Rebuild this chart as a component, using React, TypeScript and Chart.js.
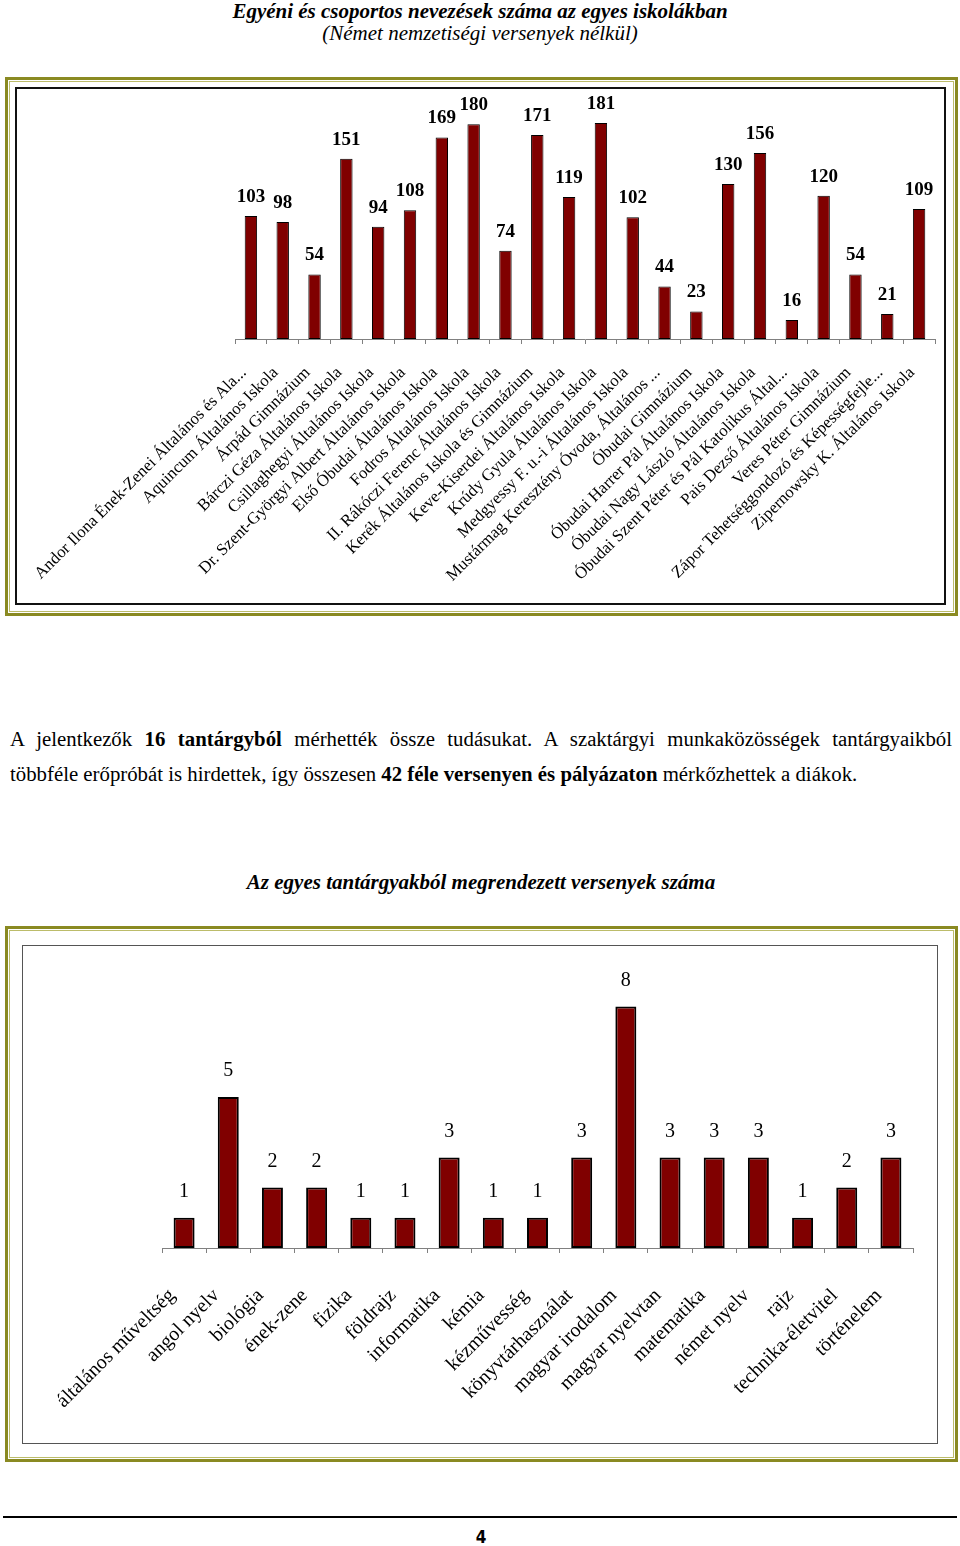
import React, { useEffect, useRef } from "react";
import { Chart, registerables } from "chart.js";

Chart.register(...registerables);

const SERIF = "'Liberation Serif', 'Times New Roman', serif";

const schoolNames: string[] = [
  "Andor Ilona Ének-Zenei Általános és Ala...",
  "Aquincum Általános Iskola",
  "Árpád Gimnázium",
  "Bárczi Géza Általános Iskola",
  "Csillaghegyi Általános Iskola",
  "Dr. Szent-Györgyi Albert Általános Iskola",
  "Első Óbudai Általános Iskola",
  "Fodros Általános Iskola",
  "II. Rákóczi Ferenc Általános Iskola",
  "Kerék Általános Iskola és Gimnázium",
  "Keve-Kiserdei Általános Iskola",
  "Krúdy Gyula Általános Iskola",
  "Medgyessy F. u.-i Általános Iskola",
  "Mustármag Keresztény Óvoda, Általános ...",
  "Óbudai Gimnázium",
  "Óbudai Harrer Pál Általános Iskola",
  "Óbudai Nagy László Általános Iskola",
  "Óbudai Szent Péter és Pál Katolikus Által...",
  "Pais Dezső Általános Iskola",
  "Veres Péter Gimnázium",
  "Zápor Tehetséggondozó és Képességfejle...",
  "Zipernowsky K. Általános Iskola",
];

const schoolEntries: number[] = [
  103, 98, 54, 151, 94, 108, 169, 180, 74, 171, 119, 181, 102, 44, 23, 130, 156, 16, 120, 54, 21, 109,
];

const subjectNames: string[] = [
  "általános műveltség",
  "angol nyelv",
  "biológia",
  "ének-zene",
  "fizika",
  "földrajz",
  "informatika",
  "kémia",
  "kézművesség",
  "könyvtárhasználat",
  "magyar irodalom",
  "magyar nyelvtan",
  "matematika",
  "német nyelv",
  "rajz",
  "technika-életvitel",
  "történelem",
];

const subjectCompetitions: number[] = [1, 5, 2, 2, 1, 1, 3, 1, 1, 3, 8, 3, 3, 3, 1, 2, 3];

type BarProps = {
  labels: string[];
  values: number[];
  width: number;
  height: number;
  yMax: number;
  padLeft: number;
  padRight: number;
  padTop: number;
  xHeight: number;
  tickFont: number;
  tickPadding: number;
  labelOffset: number;
  valueFont: string;
  valueGap: number;
  barPct: number;
  borderWidth: number;
};

function BarChart(p: BarProps) {
  const ref = useRef<HTMLCanvasElement>(null);
  useEffect(() => {
    const valuePlugin = {
      id: "valueLabels",
      afterDatasetsDraw(chart: any) {
        const ctx = chart.ctx;
        const meta = chart.getDatasetMeta(0);
        const data = chart.data.datasets[0].data;
        ctx.save();
        ctx.font = p.valueFont;
        ctx.fillStyle = "#000";
        ctx.textAlign = "center";
        ctx.textBaseline = "middle";
        meta.data.forEach((el: any, i: number) => {
          ctx.fillText(String(data[i]), el.x, el.y - p.valueGap);
        });
        ctx.restore();
      },
    };
    const chart = new Chart(ref.current as HTMLCanvasElement, {
      type: "bar",
      data: {
        labels: p.labels,
        datasets: [
          {
            data: p.values,
            backgroundColor: "#800000",
            borderColor: "#000000",
            borderWidth: p.borderWidth,
            borderSkipped: false,
            barPercentage: p.barPct,
            categoryPercentage: 1,
          },
        ],
      },
      options: {
        responsive: false,
        animation: false,
        devicePixelRatio: 1,
        layout: { padding: { left: p.padLeft, right: p.padRight, top: p.padTop, bottom: 0 } },
        plugins: {
          legend: { display: false },
          tooltip: { enabled: false },
        },
        scales: {
          x: {
            grid: {
              display: true,
              drawOnChartArea: false,
              drawTicks: true,
              tickLength: 5,
              color: "#808080",
              offset: true,
            },
            border: { display: true, color: "#808080", width: 1 },
            ticks: {
              autoSkip: false,
              maxRotation: 45,
              minRotation: 45,
              padding: p.tickPadding,
              labelOffset: p.labelOffset,
              color: "#000",
              font: { family: SERIF, size: p.tickFont },
            },
            afterFit: (s: any) => {
              s.height = p.xHeight;
              s.paddingLeft = 0;
              s.paddingRight = 0;
            },
          },
          y: { display: false, min: 0, max: p.yMax },
        },
      } as any,
      plugins: [valuePlugin],
    });
    return () => chart.destroy();
  }, []);
  return (
    <canvas
      ref={ref}
      width={p.width}
      height={p.height}
      style={{ position: "absolute", left: 0, top: 0, width: p.width, height: p.height }}
    />
  );
}

const frameStyle = (left: number, top: number, width: number, height: number): React.CSSProperties => ({
  position: "absolute",
  left,
  top,
  width,
  height,
  boxSizing: "border-box",
  border: "3px solid #8a8a22",
  boxShadow: "inset 0 0 0 1px #ffffff, inset 0 0 0 2px #bcbc6a",
});

export default function App() {
  return (
    <div
      style={{
        position: "absolute",
        left: 0,
        top: 0,
        width: 960,
        height: 1546,
        background: "#fff",
        fontFamily: SERIF,
        color: "#000",
        overflow: "hidden",
      }}
    >
      <div
        style={{
          position: "absolute",
          left: 0,
          top: -1,
          width: 960,
          textAlign: "center",
          fontSize: 21,
          lineHeight: "24px",
          fontWeight: "bold",
          fontStyle: "italic",
        }}
      >
        Egyéni és csoportos nevezések száma az egyes iskolákban
      </div>
      <div
        style={{
          position: "absolute",
          left: 0,
          top: 21,
          width: 960,
          textAlign: "center",
          fontSize: 21,
          lineHeight: "24px",
          fontStyle: "italic",
        }}
      >
        (Német nemzetiségi versenyek nélkül)
      </div>

      <div style={frameStyle(5, 77, 953, 539)} />
      <div
        style={{
          position: "absolute",
          left: 15,
          top: 87,
          width: 931,
          height: 518,
          boxSizing: "border-box",
          border: "2px solid #111",
        }}
      >
        <BarChart
          labels={schoolNames}
          values={schoolEntries}
          width={927}
          height={514}
          yMax={200}
          padLeft={218}
          padRight={9}
          padTop={11.4}
          xHeight={264}
          tickFont={16.8}
          tickPadding={19}
          labelOffset={-7}
          valueFont={`bold 19px ${SERIF}`}
          valueGap={19}
          barPct={0.39}
          borderWidth={1}
        />
      </div>

      <div
        style={{
          position: "absolute",
          left: 10,
          top: 727,
          width: 942,
          fontSize: 20.8,
          lineHeight: "24px",
          textAlign: "justify",
          textAlignLast: "justify",
          whiteSpace: "nowrap",
        }}
      >
        A jelentkezők <b>16 tantárgyból</b> mérhették össze tudásukat. A szaktárgyi munkaközösségek tantárgyaikból
      </div>
      <div
        style={{
          position: "absolute",
          left: 10,
          top: 762,
          width: 942,
          fontSize: 20.8,
          lineHeight: "24px",
          textAlign: "left",
          whiteSpace: "nowrap",
        }}
      >
        többféle erőpróbát is hirdettek, így összesen <b>42 féle versenyen és pályázaton</b> mérkőzhettek a diákok.
      </div>

      <div
        style={{
          position: "absolute",
          left: 0,
          top: 870,
          width: 962,
          textAlign: "center",
          fontSize: 21,
          lineHeight: "24px",
          fontWeight: "bold",
          fontStyle: "italic",
        }}
      >
        Az egyes tantárgyakból megrendezett versenyek száma
      </div>

      <div style={frameStyle(5, 926, 953, 536)} />
      <div
        style={{
          position: "absolute",
          left: 22,
          top: 945,
          width: 916,
          height: 499,
          boxSizing: "border-box",
          border: "1px solid #555",
        }}
      >
        <BarChart
          labels={subjectNames}
          values={subjectCompetitions}
          width={914}
          height={497}
          yMax={9}
          padLeft={139}
          padRight={24}
          padTop={30.2}
          xHeight={195}
          tickFont={20}
          tickPadding={31}
          labelOffset={-12}
          valueFont={`20px ${SERIF}`}
          valueGap={26}
          barPct={0.475}
          borderWidth={2}
        />
      </div>

      <div style={{ position: "absolute", left: 3, top: 1516, width: 954, height: 2, background: "#000" }} />
      <div
        style={{
          position: "absolute",
          left: 0,
          top: 1526,
          width: 962,
          textAlign: "center",
          fontSize: 17,
          lineHeight: "22px",
          fontWeight: "bold",
          fontFamily: "'Liberation Sans Narrow', 'DejaVu Sans Condensed', 'Arial Narrow', sans-serif",
        }}
      >
        4
      </div>
    </div>
  );
}
